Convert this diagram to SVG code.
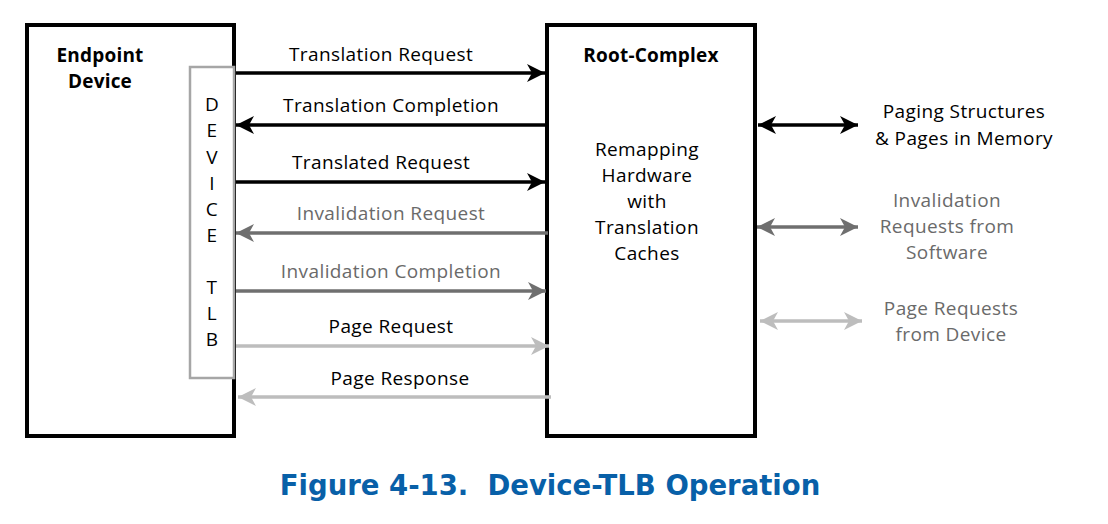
<svg xmlns="http://www.w3.org/2000/svg" width="1108" height="524" viewBox="0 0 1108 524">
<style>
.box{fill:#fff;stroke:#000;stroke-width:4}
.tlb{fill:#fff;stroke:#a6a6a6;stroke-width:2.5}
.t{font-family:"Open Sans","Noto Sans","DejaVu Sans",sans-serif;font-size:19px;letter-spacing:0.4px;text-anchor:middle}
.b{font-weight:bold;letter-spacing:0.2px}
.k{fill:#000}
.g{fill:#6a6a6a}
.a{fill:none;stroke-width:3.5}
.ka{stroke:#000}
.ga{stroke:#6f6f6f}
.la{stroke:#bdbdbd}
.title{font-family:Verdana,"DejaVu Sans",sans-serif;font-size:27.5px;font-weight:bold;fill:#0860a8;text-anchor:middle}
</style>
<defs>
<marker id="mk" markerWidth="20" markerHeight="20" refX="18" refY="10" orient="auto-start-reverse" markerUnits="userSpaceOnUse"><path d="M0,1 L18,10 L0,19 L5,10 Z" fill="#000"/></marker>
<marker id="mg" markerWidth="20" markerHeight="20" refX="18" refY="10" orient="auto-start-reverse" markerUnits="userSpaceOnUse"><path d="M0,1 L18,10 L0,19 L5,10 Z" fill="#6f6f6f"/></marker>
<marker id="ml" markerWidth="20" markerHeight="20" refX="18" refY="10" orient="auto-start-reverse" markerUnits="userSpaceOnUse"><path d="M0,1 L18,10 L0,19 L5,10 Z" fill="#bdbdbd"/></marker>
</defs>
<g id="endpoint">
<rect class="box" x="27" y="25" width="207" height="411"/>
<text class="t b k" x="100" y="62">Endpoint</text>
<text class="t b k" x="100" y="88">Device</text>
</g>
<g id="devtlb">
<rect class="tlb" x="190" y="67" width="44" height="311"/>
<g class="t k">
<text x="212" y="111">D</text>
<text x="212" y="137">E</text>
<text x="212" y="164">V</text>
<text x="212" y="190">I</text>
<text x="212" y="216">C</text>
<text x="212" y="242">E</text>
<text x="212" y="294">T</text>
<text x="212" y="320">L</text>
<text x="212" y="346">B</text>
</g>
</g>
<g id="root">
<rect class="box" x="547" y="25" width="208" height="411"/>
<text class="t b k" x="651" y="62">Root-Complex</text>
<g class="t k">
<text x="647" y="156">Remapping</text>
<text x="647" y="182">Hardware</text>
<text x="647" y="208">with</text>
<text x="647" y="234">Translation</text>
<text x="647" y="260">Caches</text>
</g>
</g>
<g id="memory"><text class="t k" x="964" y="118">Paging Structures</text><text class="t k" x="964" y="145">&amp; Pages in Memory</text></g>
<g id="software"><g class="t g"><text x="947" y="207">Invalidation</text><text x="947" y="233">Requests from</text><text x="947" y="259">Software</text></g></g>
<g id="device"><g class="t g"><text x="951" y="315">Page Requests</text><text x="951" y="341">from Device</text></g></g>
<g id="connectors">
<line class="a ka" x1="236" y1="73" x2="545" y2="73" marker-end="url(#mk)"/>
<line class="a ka" x1="545" y1="125" x2="236" y2="125" marker-end="url(#mk)"/>
<line class="a ka" x1="236" y1="182" x2="545" y2="182" marker-end="url(#mk)"/>
<line class="a ga" x1="548" y1="233" x2="236" y2="233" marker-end="url(#mg)"/>
<line class="a ga" x1="236" y1="291" x2="546" y2="291" marker-end="url(#mg)"/>
<line class="a la" x1="236" y1="346" x2="549" y2="346" marker-end="url(#ml)"/>
<line class="a la" x1="551" y1="397" x2="238" y2="397" marker-end="url(#ml)"/>
<line class="a ka" x1="758" y1="125" x2="858" y2="125" marker-start="url(#mk)" marker-end="url(#mk)"/>
<line class="a ga" x1="757" y1="227" x2="858" y2="227" marker-start="url(#mg)" marker-end="url(#mg)"/>
<line class="a la" x1="760" y1="321" x2="862" y2="321" marker-start="url(#ml)" marker-end="url(#ml)"/>
<g class="t k">
<text x="381" y="61">Translation Request</text>
<text x="391" y="112">Translation Completion</text>
<text x="381" y="169">Translated Request</text>
<text x="391" y="333">Page Request</text>
<text x="400" y="385">Page Response</text>
</g>
<g class="t g">
<text x="391" y="220">Invalidation Request</text>
<text x="391" y="278">Invalidation Completion</text>
</g>
</g>
<text class="title" x="550" y="495" xml:space="preserve">Figure 4-13.  Device-TLB Operation</text>
</svg>
